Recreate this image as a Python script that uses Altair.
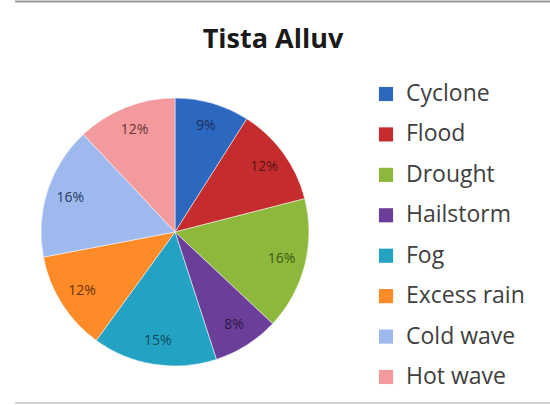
import altair as alt
import pandas as pd

# Hazard shares for the Tista alluvial zone (percent)
categories = ["Cyclone", "Flood", "Drought", "Hailstorm", "Fog",
              "Excess rain", "Cold wave", "Hot wave"]
shares = [9, 12, 16, 8, 15, 12, 16, 12]
colors = ["#2C68C0", "#C42C2E", "#8DB83C", "#6B3E9A", "#24A2C4",
          "#FF8A28", "#9EB9EE", "#F29A9E"]
label_colors = ["#1B2F5E", "#5A1416", "#3F5A16", "#2A1844", "#0F4A5A",
                "#6A3408", "#2A3A66", "#6A3436"]

df = pd.DataFrame({
    "category": categories,
    "share": shares,
    "order": list(range(len(categories))),
    "label": [f"{v}%" for v in shares],
    "lab_color": label_colors,
})

color_scale = alt.Scale(domain=categories, range=colors)
cx, cy, r = 175, 232, 134

base = alt.Chart(df)

pie = base.mark_arc(radius=r, x=cx, y=cy, stroke="white", strokeWidth=0.5).encode(
    theta=alt.Theta("share:Q", stack=True),
    order=alt.Order("order:Q"),
    color=alt.Color("category:N", scale=color_scale, legend=None),
)

pie_labels = base.mark_text(radius=110, x=cx, y=cy, font="Open Sans",
                            fontSize=14).encode(
    theta=alt.Theta("share:Q", stack=True),
    order=alt.Order("order:Q"),
    text="label:N",
    color=alt.Color("lab_color:N", scale=None),
)

legend_y = alt.Y("category:N", axis=None,
                 scale=alt.Scale(type="point", domain=categories,
                                 range=[94, 377], padding=0))

legend_marks = base.mark_square(size=200, opacity=1).encode(
    x=alt.value(386),
    y=legend_y,
    color=alt.Color("category:N", scale=color_scale, legend=None),
)

legend_text = base.mark_text(align="left", baseline="middle", font="Open Sans",
                             fontSize=23, color="#404040").encode(
    x=alt.value(406),
    y=legend_y,
    text="category:N",
)

title = alt.Chart(pd.DataFrame({"t": ["Tista Alluv"]})).mark_text(
    font="Open Sans", fontSize=27, fontWeight="bold", color="#1a1a1a",
    baseline="alphabetic", align="center",
).encode(x=alt.value(273), y=alt.value(48), text="t:N")

top_line = alt.Chart(pd.DataFrame({"a": [0]})).mark_rule(
    color="#9a9a9a", strokeWidth=2).encode(
    x=alt.value(15), x2=alt.value(550), y=alt.value(1.5))
bottom_line = alt.Chart(pd.DataFrame({"a": [0]})).mark_rule(
    color="#d4d4d4", strokeWidth=2).encode(
    x=alt.value(15), x2=alt.value(550), y=alt.value(403))

chart = alt.layer(
    pie, pie_labels, legend_marks, legend_text, title, top_line, bottom_line
).properties(
    width=550, height=405, padding=0,
    autosize=alt.AutoSizeParams(type="none"),
).configure(background="white").configure_view(stroke=None)

chart.save("out.html", embed_options={"renderer": "svg", "actions": False})
